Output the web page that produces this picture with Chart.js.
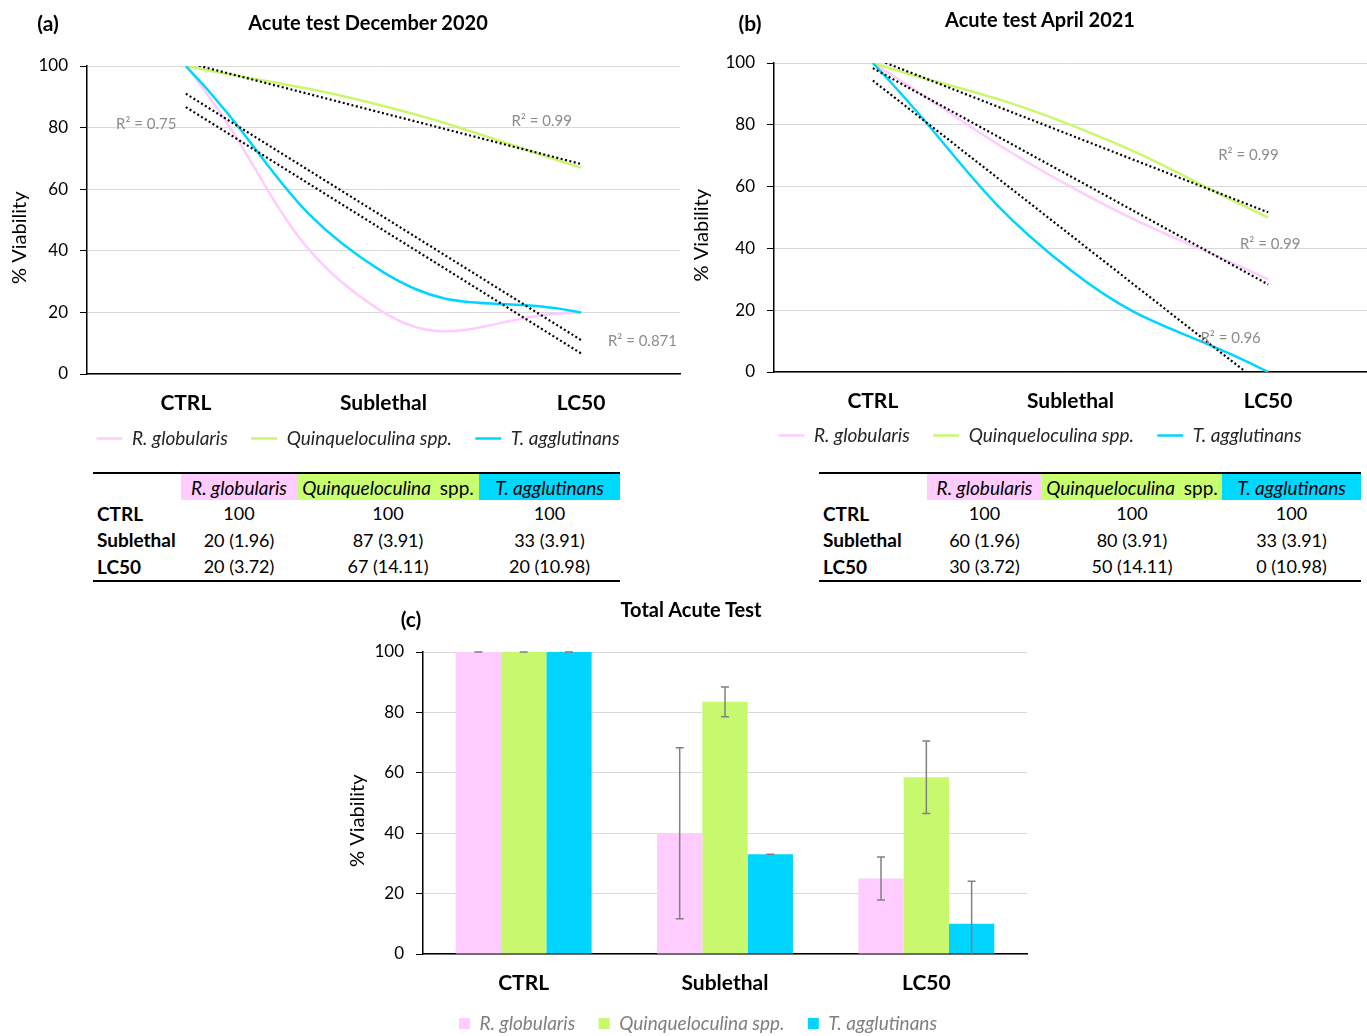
<!DOCTYPE html>
<html>
<head>
<meta charset="utf-8">
<script src="https://cdn.jsdelivr.net/npm/chart.js@4.4.1/dist/chart.umd.min.js"></script>
<style>
  body { margin: 0; width: 1367px; height: 1036px; overflow: hidden; background: #fff; position: relative; font-family: Lato, sans-serif; }
  canvas { position: absolute; }
  .lbl { position: absolute; transform: translate(-50%, -50%); font-weight: bold; white-space: nowrap; color: #000; z-index: 2; }
  table { position: absolute; border-collapse: collapse; table-layout: fixed; font-size: 18px; color: #000;
          border-top: 2px solid #000; border-bottom: 2px solid #000; }
  th { font-weight: normal; font-style: italic; font-size: 19px; height: 26px; padding: 0; text-align: center; }
  th .up { font-style: normal; }
  td { height: 26.5px; padding: 0; text-align: center; }
  td.rowh { text-align: left; font-weight: bold; font-size: 19px; padding-left: 4px; }
</style>
</head>
<body>
<div class="lbl" style="left:48px; top:22px; font-size:21px;">(a)</div>
<div class="lbl" style="left:368px; top:22px; font-size:20px;">Acute test December 2020</div>
<div class="lbl" style="left:750px; top:22px; font-size:21px;">(b)</div>
<div class="lbl" style="left:1040px; top:19px; font-size:20px;">Acute test April 2021</div>
<div class="lbl" style="left:411px; top:618px; font-size:21px;">(c)</div>
<div class="lbl" style="left:691px; top:609px; font-size:20px;">Total Acute Test</div>

<canvas id="chartA" width="690" height="458" style="left:0; top:0;"></canvas>
<canvas id="chartB" width="677" height="455" style="left:690px; top:0;"></canvas>
<canvas id="chartC" width="700" height="453" style="left:340px; top:590px;"></canvas>

<table id="tableA" style="left:93px; top:472px; width:527px;"></table>
<table id="tableB" style="left:819px; top:472px; width:542px;"></table>

<script>
const categories = ['CTRL', 'Sublethal', 'LC50'];
const speciesNames = ['R. globularis', 'Quinqueloculina spp.', 'T. agglutinans'];
const speciesColors = ['#FFCCFF', '#C8F86E', '#00D5FF'];
const yTicks = [0, 20, 40, 60, 80, 100];

// (a) December 2020
const decGlobularis = [100, 20, 20];
const decQuinqueloculina = [100, 87, 67];
const decAgglutinans = [100, 33, 20];
const decR2 = ['0.75', '0.99', '0.871'];

// (b) April 2021
const aprGlobularis = [100, 60, 30];
const aprQuinqueloculina = [100, 80, 50];
const aprAgglutinans = [100, 33, 0];
const aprR2 = ['0.99', '0.99', '0.96'];

// values in brackets in the tables
const errGlobularis = [null, 1.96, 3.72];
const errQuinqueloculina = [null, 3.91, 14.11];
const errAgglutinans = [null, 3.91, 10.98];

// (c) total
const totGlobularis = [100, 40, 25];
const totQuinqueloculina = [100, 83.5, 58.5];
const totAgglutinans = [100, 33, 10];
const sdGlobularis = [0, 28.3, 7.1];
const sdQuinqueloculina = [0, 4.9, 12];
const sdAgglutinans = [0, 0, 14.1];

Chart.defaults.font.family = 'Lato, sans-serif';
Chart.defaults.color = '#000';

// least squares line, like the Excel trendline
function linearTrend(values) {
    const n = values.length;
    const mx = (n - 1) / 2;
    const my = values.reduce((a, b) => a + b, 0) / n;
    let sxy = 0, sxx = 0;
    values.forEach((v, i) => {
        sxy += (i - mx) * (v - my);
        sxx += (i - mx) * (i - mx);
    });
    const slope = sxy / sxx;
    return values.map((v, i) => my + slope * (i - mx));
}

// wider gaps between legend entries
function spacedLabels(chart) {
    return Chart.defaults.plugins.legend.labels.generateLabels(chart).map(item => {
        if (item.datasetIndex < 2) item.text = item.text + '\u00A0\u00A0\u00A0';
        return item;
    });
}

const r2Plugin = {
    id: 'r2Labels',
    afterDatasetsDraw(chart, args, opts) {
        if (!opts.labels) return;
        const {ctx, scales: {x, y}} = chart;
        ctx.save();
        ctx.font = '15px Lato, sans-serif';
        ctx.fillStyle = '#8C8C8C';
        ctx.textAlign = 'center';
        ctx.textBaseline = 'middle';
        opts.labels.forEach(l => {
            ctx.fillText('R\u00B2 = ' + l.text, x.getPixelForValue(l.x), y.getPixelForValue(l.y));
        });
        ctx.restore();
    }
};

const errorBarPlugin = {
    id: 'errorBars',
    afterDatasetsDraw(chart, args, opts) {
        if (!opts.errors) return;
        const {ctx, chartArea, scales: {y}} = chart;
        ctx.save();
        ctx.beginPath();
        ctx.rect(chartArea.left, chartArea.top - 2, chartArea.width, chartArea.height + 2);
        ctx.clip();
        ctx.strokeStyle = '#808080';
        ctx.lineWidth = 1.5;
        opts.errors.forEach((errs, di) => {
            const meta = chart.getDatasetMeta(di);
            meta.data.forEach((bar, j) => {
                const v = chart.data.datasets[di].data[j];
                const top = y.getPixelForValue(v + errs[j]);
                const bottom = y.getPixelForValue(v - errs[j]);
                ctx.beginPath();
                ctx.moveTo(bar.x, top);
                ctx.lineTo(bar.x, bottom);
                ctx.moveTo(bar.x - 4, top);
                ctx.lineTo(bar.x + 4, top);
                ctx.moveTo(bar.x - 4, bottom);
                ctx.lineTo(bar.x + 4, bottom);
                ctx.stroke();
            });
        });
        ctx.restore();
    }
};

function yAxis(width, titlePad) {
    return {
        min: 0,
        max: 100,
        afterBuildTicks: s => { s.ticks = yTicks.map(v => ({value: v})); },
        afterFit: s => { s.width = width; },
        grid: { color: '#D9D9D9', tickColor: '#000', tickLength: 7 },
        border: { color: '#000', width: 1.5 },
        ticks: { padding: 12, font: { size: 17 }, color: '#000' },
        // trailing spaces push the rotated title a bit lower, as in the original
        title: { display: true, text: '% Viability' + '\u00A0'.repeat(7), font: { size: 20 }, color: '#000',
                 padding: { top: titlePad, bottom: 0 } }
    };
}

function xAxis(height) {
    return {
        offset: true,
        afterFit: s => { s.height = height; },
        grid: { display: false, drawTicks: false, offset: true },
        border: { color: '#000', width: 1.5 },
        ticks: { padding: 17, font: { size: 21, weight: 'bold' }, color: '#000', maxRotation: 0 }
    };
}

function makeLineChart(id, series, r2, r2Pos, padding, axisWidth, titlePad, xHeight) {
    const lines = series.map((data, i) => ({
        label: speciesNames[i],
        data: data,
        borderColor: speciesColors[i],
        backgroundColor: speciesColors[i],
        borderWidth: 2.5,
        pointRadius: 0,
        tension: 0.45,
        fill: false,
        order: 3 - i
    }));
    const trends = series.map(data => ({
        label: 'trend',
        data: linearTrend(data),
        borderColor: '#000',
        borderWidth: 2.2,
        borderDash: [2, 2.5],
        pointRadius: 0,
        tension: 0,
        fill: false,
        order: 0
    }));
    return new Chart(document.getElementById(id), {
        type: 'line',
        data: { labels: categories, datasets: lines.concat(trends) },
        plugins: [r2Plugin],
        options: {
            responsive: false,
            animation: false,
            layout: { padding: padding },
            scales: { x: xAxis(xHeight), y: yAxis(axisWidth, titlePad) },
            plugins: {
                tooltip: { enabled: false },
                legend: {
                    position: 'bottom',
                    labels: {
                        generateLabels: spacedLabels,
                        filter: item => item.datasetIndex < 3,
                        sort: (a, b) => a.datasetIndex - b.datasetIndex,
                        usePointStyle: true,
                        pointStyle: 'line',
                        pointStyleWidth: 26,
                        color: '#262626',
                        font: { size: 19, style: 'italic' },
                        padding: 10
                    }
                },
                r2Labels: { labels: r2.map((t, i) => ({ text: t, x: r2Pos[i].x, y: r2Pos[i].y })) }
            }
        }
    });
}

// R² label anchors (category index, value)
const decR2Pos = [{x: -0.2, y: 81}, {x: 1.8, y: 82}, {x: 2.31, y: 10.7}];
const aprR2Pos = [{x: 2.01, y: 41.4}, {x: 1.9, y: 70.2}, {x: 1.81, y: 11}];

makeLineChart('chartA', [decGlobularis, decQuinqueloculina, decAgglutinans], decR2, decR2Pos,
    { left: 36, right: 10, top: 66, bottom: 0 }, 51, -28, 45);
makeLineChart('chartB', [aprGlobularis, aprQuinqueloculina, aprAgglutinans], aprR2, aprR2Pos,
    { left: 23, right: 0, top: 63, bottom: 0 }, 61, -23, 44);

// (c) bar chart
const totals = [totGlobularis, totQuinqueloculina, totAgglutinans];
new Chart(document.getElementById('chartC'), {
    type: 'bar',
    data: {
        labels: categories,
        datasets: totals.map((data, i) => ({
            label: speciesNames[i],
            data: data,
            backgroundColor: speciesColors[i],
            borderWidth: 0,
            categoryPercentage: 0.675,
            barPercentage: 1.0
        }))
    },
    plugins: [errorBarPlugin],
    options: {
        responsive: false,
        animation: false,
        layout: { padding: { left: 29, right: 13, top: 62, bottom: 0 } },
        scales: { x: xAxis(50), y: yAxis(54, -23) },
        plugins: {
            tooltip: { enabled: false },
            legend: {
                position: 'bottom',
                labels: {
                    generateLabels: spacedLabels,
                    boxWidth: 11,
                    boxHeight: 11,
                    color: '#7F7F7F',
                    font: { size: 19, style: 'italic' },
                    padding: 10
                }
            },
            errorBars: { errors: [sdGlobularis, sdQuinqueloculina, sdAgglutinans] }
        }
    }
});

// tables under (a) and (b)
function formatName(name) {
    if (name.endsWith(' spp.')) return name.replace(' spp.', '') + '&nbsp; <span class="up">spp.</span>';
    return name;
}

function buildTable(id, series, errors, widths) {
    let html = '<colgroup>' + widths.map(w => '<col style="width:' + w + 'px">').join('') + '</colgroup>';
    html += '<tr><th></th>' + speciesNames.map((n, i) =>
        '<th style="background:' + ['#FFCCFF', '#C8FF6E', '#00D9FF'][i] + '">' + formatName(n) + '</th>').join('') + '</tr>';
    categories.forEach((c, r) => {
        html += '<tr><td class="rowh">' + c + '</td>' + series.map((s, i) => {
            const e = errors[i][r];
            return '<td>' + s[r] + (e === null ? '' : ' (' + e.toFixed(2) + ')') + '</td>';
        }).join('') + '</tr>';
    });
    document.getElementById(id).innerHTML = html;
}

const tableErrors = [errGlobularis, errQuinqueloculina, errAgglutinans];
buildTable('tableA', [decGlobularis, decQuinqueloculina, decAgglutinans], tableErrors, [88, 116, 182, 141]);
buildTable('tableB', [aprGlobularis, aprQuinqueloculina, aprAgglutinans], tableErrors, [108, 115, 180, 139]);
</script>
</body>
</html>
